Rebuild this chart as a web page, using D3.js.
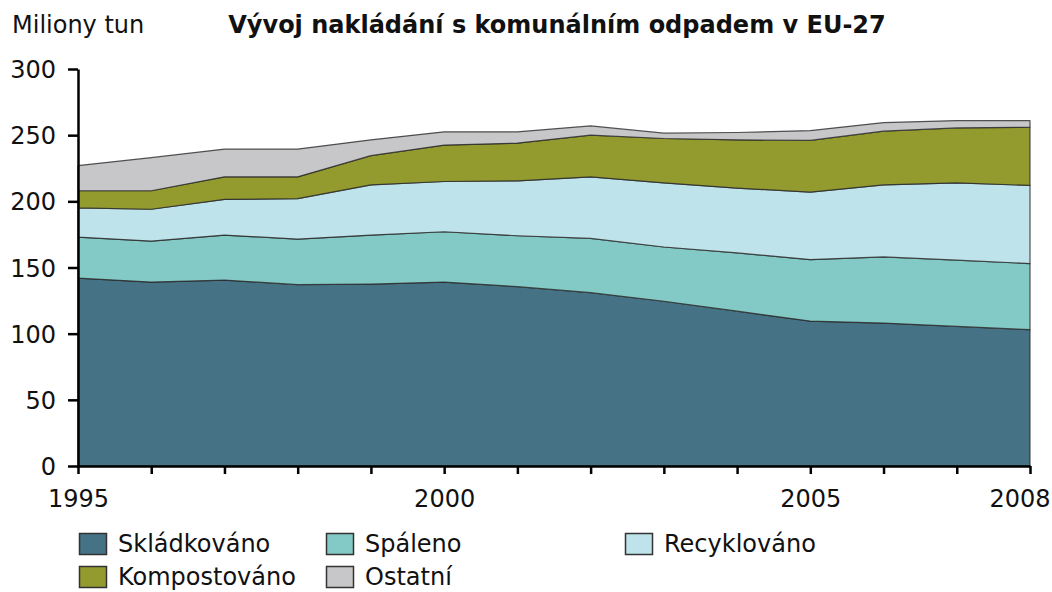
<!DOCTYPE html>
<html>
<head>
<meta charset="utf-8">
<script src="https://cdn.jsdelivr.net/npm/d3@7"></script>
<style>
    body { margin: 0; background: #fff; }
    text { font-family: "DejaVu Sans", Verdana, sans-serif; fill: #111; }
</style>
</head>
<body>
<div id="chart_div"></div>
<script>
    const years = [1995, 1996, 1997, 1998, 1999, 2000, 2001, 2002, 2003, 2004, 2005, 2006, 2007, 2008];
    const skladkovano = [142, 139, 140.5, 137, 137.5, 139, 135.5, 131, 124.5, 117, 109.5, 108, 105.5, 103];
    const spaleno = [31, 31, 34, 34.5, 37, 38, 38.5, 41, 41, 44, 46.5, 50, 50, 50];
    const recyklovano = [22, 24, 27, 30.5, 38, 38, 41.5, 46.5, 48.5, 49, 51, 54.5, 58.5, 59];
    const kompostovano = [13, 14, 17, 16.5, 22, 27.5, 28.5, 31.5, 33.5, 36.5, 39, 40.5, 41.5, 44];
    const ostatni = [19, 25, 21, 21, 12, 10, 8.5, 7, 4, 5.5, 7.5, 6.5, 5.5, 5];

    const seriesNames = ["Skládkováno", "Spáleno", "Recyklováno", "Kompostováno", "Ostatní"];
    const seriesValues = [skladkovano, spaleno, recyklovano, kompostovano, ostatni];
    const colors = ["#457284", "#83c9c5", "#bee3ea", "#949b2e", "#c7c7c9"];
    const yTicks = [0, 50, 100, 150, 200, 250, 300];
    const xLabels = [1995, 2000, 2005, 2008];

    const width = 1052;
    const height = 592;
    const plotLeft = 78, plotRight = 1030, plotTop = 69, plotBottom = 466;
    const fontSize = 24;

    // one row per year, one column per series
    const table = years.map((yr, i) => {
        const row = { year: yr };
        seriesNames.forEach((n, j) => row[n] = seriesValues[j][i]);
        return row;
    });

    const stacked = d3.stack().keys(seriesNames)(table);

    const x = d3.scaleLinear()
        .domain([1995, 2008])
        .range([plotLeft, plotRight]);

    const y = d3.scaleLinear()
        .domain([0, 300])
        .range([plotBottom, plotTop]);

    const svg = d3.select("#chart_div")
        .append("svg")
        .attr("width", width)
        .attr("height", height);

    const area = d3.area()
        .x(d => x(d.data.year))
        .y0(d => y(d[0]))
        .y1(d => y(d[1]));

    svg.append("g")
        .selectAll("path")
        .data(stacked)
        .enter()
        .append("path")
        .attr("d", area)
        .attr("fill", (d, i) => colors[i])
        .attr("stroke", "#2a2a2a")
        .attr("stroke-opacity", 0.8)
        .attr("stroke-width", 1.2)
        .attr("stroke-linejoin", "round");

    const yAxis = svg.append("g")
        .attr("transform", `translate(${plotLeft},0)`)
        .call(d3.axisLeft(y).tickValues(yTicks).tickSize(10).tickPadding(12).tickSizeOuter(0));

    const xAxis = svg.append("g")
        .attr("transform", `translate(0,${plotBottom})`)
        .call(d3.axisBottom(x).tickValues(years).tickSize(8).tickPadding(16).tickSizeOuter(0)
            .tickFormat(d => xLabels.includes(d) ? d : ""));

    [yAxis, xAxis].forEach(a => {
        a.select(".domain").attr("stroke", "#000").attr("stroke-width", 2.5);
        a.selectAll(".tick line").attr("stroke", "#000").attr("stroke-width", 2.5);
        a.selectAll(".tick text")
            .attr("font-family", "DejaVu Sans, Verdana, sans-serif")
            .attr("font-size", fontSize)
            .attr("fill", "#111");
    });
    yAxis.selectAll(".tick text").attr("dy", "0.36em");

    // last year label sits flush with the right edge
    xAxis.selectAll(".tick text")
        .filter(d => d === 2008)
        .attr("text-anchor", "end")
        .attr("x", 20);

    svg.append("text")
        .attr("x", 12)
        .attr("y", 33)
        .attr("font-size", fontSize)
        .text("Miliony tun");

    svg.append("text")
        .attr("x", 557)
        .attr("y", 33)
        .attr("text-anchor", "middle")
        .attr("font-size", fontSize)
        .attr("font-weight", "bold")
        .text("Vývoj nakládání s komunálním odpadem v EU-27");

    const legendPos = [[79, 533], [326, 533], [625, 533], [79, 566], [326, 566]];

    const legend = svg.append("g")
        .selectAll("g")
        .data(seriesNames)
        .enter()
        .append("g")
        .attr("transform", (d, i) => `translate(${legendPos[i][0]},${legendPos[i][1]})`);

    legend.append("rect")
        .attr("x", 0.5)
        .attr("y", 0.5)
        .attr("width", 27)
        .attr("height", 21)
        .attr("fill", (d, i) => colors[i])
        .attr("stroke", "#333")
        .attr("stroke-width", 1.5);

    legend.append("text")
        .attr("x", 39)
        .attr("y", 19)
        .attr("font-size", fontSize)
        .text(d => d);
</script>
</body>
</html>
